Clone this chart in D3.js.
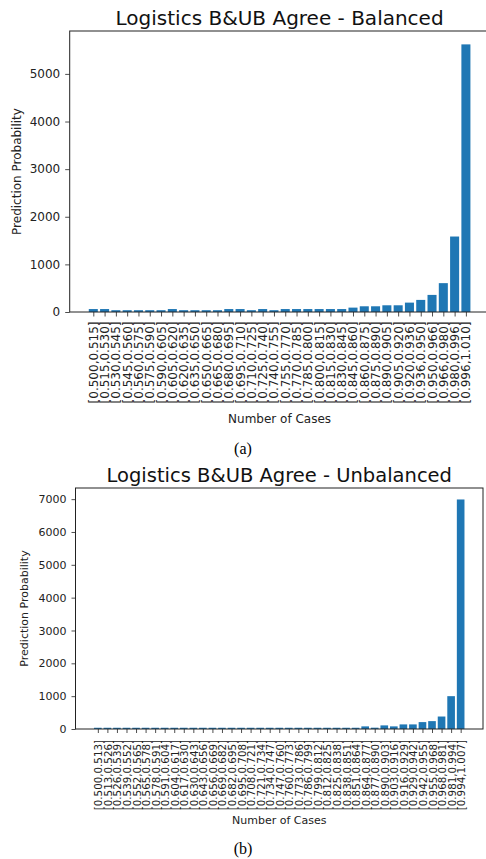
<!DOCTYPE html>
<html>
<head>
<meta charset="utf-8">
<script src="https://cdn.jsdelivr.net/npm/d3@7"></script>
<style>
  body { margin: 0; background: #fff; }
  svg { display: block; }
</style>
</head>
<body>
<svg id="fig" width="486" height="859"></svg>
<script>
// Interval labels and case counts for the balanced model
const balancedBins = [
  "[0.500,0.515]", "[0.515,0.530]", "[0.530,0.545]", "[0.545,0.560]", "[0.560,0.575]",
  "[0.575,0.590]", "[0.590,0.605]", "[0.605,0.620]", "[0.620,0.635]", "[0.635,0.650]",
  "[0.650,0.665]", "[0.665,0.680]", "[0.680,0.695]", "[0.695,0.710]", "[0.710,0.725]",
  "[0.725,0.740]", "[0.740,0.755]", "[0.755,0.770]", "[0.770,0.785]", "[0.785,0.800]",
  "[0.800,0.815]", "[0.815,0.830]", "[0.830,0.845]", "[0.845,0.860]", "[0.860,0.875]",
  "[0.875,0.890]", "[0.890,0.905]", "[0.905,0.920]", "[0.920,0.936]", "[0.936,0.950]",
  "[0.950,0.966]", "[0.966,0.980]", "[0.980,0.996]", "[0.996,1.010]"
];
const balancedCounts = [
  62, 62, 38, 38, 38, 38, 38, 62, 38, 38,
  38, 38, 62, 62, 38, 62, 38, 62, 62, 62,
  62, 62, 62, 92, 120, 120, 141, 141, 197, 254,
  359, 606, 1585, 5620
];
const balancedTicks = [0, 1000, 2000, 3000, 4000, 5000];

// Interval labels and case counts for the unbalanced model
const unbalancedBins = [
  "[0.500,0.513]", "[0.513,0.526]", "[0.526,0.539]", "[0.539,0.552]", "[0.552,0.565]",
  "[0.565,0.578]", "[0.578,0.591]", "[0.591,0.604]", "[0.604,0.617]", "[0.617,0.630]",
  "[0.630,0.643]", "[0.643,0.656]", "[0.656,0.669]", "[0.669,0.682]", "[0.682,0.695]",
  "[0.695,0.708]", "[0.708,0.721]", "[0.721,0.734]", "[0.734,0.747]", "[0.747,0.760]",
  "[0.760,0.773]", "[0.773,0.786]", "[0.786,0.799]", "[0.799,0.812]", "[0.812,0.825]",
  "[0.825,0.838]", "[0.838,0.851]", "[0.851,0.864]", "[0.864,0.877]", "[0.877,0.890]",
  "[0.890,0.903]", "[0.903,0.916]", "[0.916,0.929]", "[0.929,0.942]", "[0.942,0.955]",
  "[0.955,0.968]", "[0.968,0.981]", "[0.981,0.994]", "[0.994,1.007]"
];
const unbalancedCounts = [
  38, 38, 38, 38, 38, 38, 38, 38, 38, 38,
  38, 38, 38, 38, 38, 38, 38, 38, 38, 38,
  38, 38, 38, 38, 38, 38, 38, 38, 80, 40,
  110, 80, 140, 140, 210, 240, 380, 1000, 6990
];
const unbalancedTicks = [0, 1000, 2000, 3000, 4000, 5000, 6000, 7000];

const svg = d3.select("#fig");
const FONT = "DejaVu Sans, sans-serif";
const INK = "#222";
const BAR = "#1f77b4";

function drawPanel(cfg) {
  const g = svg.append("g");
  const n = cfg.bins.length;

  // matplotlib-style limits: bar extents plus 5% margin on x, 5% headroom on y
  const span = (n - 1) + 0.8;
  const mx = 0.05 * span;
  const x = d3.scaleLinear()
    .domain([-0.4 - mx, n - 1 + 0.4 + mx])
    .range([cfg.left, cfg.right]);
  const y = d3.scaleLinear()
    .domain([0, d3.max(cfg.counts) * 1.05])
    .range([cfg.bottom, cfg.top]);

  // bars
  g.append("g").selectAll("rect")
    .data(cfg.counts)
    .join("rect")
    .attr("x", (d, i) => x(i - 0.4))
    .attr("width", (d, i) => x(i + 0.4) - x(i - 0.4))
    .attr("y", d => y(d))
    .attr("height", d => y(0) - y(d))
    .attr("fill", BAR);

  // x axis with rotated interval labels
  const xAxis = d3.axisBottom(x)
    .tickValues(d3.range(n))
    .tickFormat(i => cfg.bins[i])
    .tickSize(cfg.tickLen)
    .tickSizeOuter(0);
  const gx = g.append("g")
    .attr("transform", `translate(0,${cfg.bottom})`)
    .call(xAxis);
  gx.select(".domain").remove();
  gx.selectAll(".tick line").attr("stroke", INK).attr("stroke-width", 0.8);
  gx.selectAll(".tick text")
    .attr("font-family", FONT)
    .attr("font-size", cfg.xtickFont)
    .attr("fill", INK)
    .attr("dy", null)
    .attr("y", null)
    .attr("text-anchor", "end")
    .attr("dominant-baseline", "central")
    .attr("transform", `translate(0,${cfg.tickLen + cfg.xPad}) rotate(-90)`);

  // y axis
  const yAxis = d3.axisLeft(y)
    .tickValues(cfg.ticks)
    .tickFormat(d3.format("d"))
    .tickSize(cfg.tickLen)
    .tickPadding(cfg.yPad)
    .tickSizeOuter(0);
  const gy = g.append("g")
    .attr("transform", `translate(${cfg.left},0)`)
    .call(yAxis);
  gy.select(".domain").remove();
  gy.selectAll(".tick line").attr("stroke", INK).attr("stroke-width", 0.8);
  gy.selectAll(".tick text")
    .attr("font-family", FONT)
    .attr("font-size", cfg.ytickFont)
    .attr("fill", INK);

  // frame
  g.append("rect")
    .attr("x", cfg.left)
    .attr("y", cfg.top)
    .attr("width", cfg.right - cfg.left)
    .attr("height", cfg.bottom - cfg.top)
    .attr("fill", "none")
    .attr("stroke", INK)
    .attr("stroke-width", 1);

  // title and axis labels
  const cx = (cfg.left + cfg.right) / 2;
  g.append("text")
    .attr("x", cx).attr("y", cfg.titleY)
    .attr("text-anchor", "middle")
    .attr("font-family", FONT)
    .attr("font-size", cfg.titleFont)
    .attr("fill", "#111")
    .text(cfg.title);

  g.append("text")
    .attr("x", cx).attr("y", cfg.xlabelY)
    .attr("text-anchor", "middle")
    .attr("font-family", FONT)
    .attr("font-size", cfg.labelFont)
    .attr("fill", INK)
    .text("Number of Cases");

  g.append("text")
    .attr("transform", `translate(${cfg.ylabelX},${(cfg.top + cfg.bottom) / 2}) rotate(-90)`)
    .attr("text-anchor", "middle")
    .attr("dominant-baseline", "central")
    .attr("font-family", FONT)
    .attr("font-size", cfg.labelFont)
    .attr("fill", INK)
    .text("Prediction Probability");

  svg.append("text")
    .attr("x", 243).attr("y", cfg.captionY)
    .attr("text-anchor", "middle")
    .attr("font-family", "Liberation Serif, Times New Roman, serif")
    .attr("font-size", 16)
    .attr("fill", "#000")
    .text(cfg.caption);
}

drawPanel({
  bins: balancedBins, counts: balancedCounts, ticks: balancedTicks,
  left: 69.7, right: 489.5, top: 31, bottom: 312,
  tickLen: 4.5, xPad: 5, yPad: 5,
  xtickFont: 12, ytickFont: 12, labelFont: 12, titleFont: 20,
  title: "Logistics B&UB Agree - Balanced", titleY: 25,
  xlabelY: 423, ylabelX: 17,
  caption: "(a)", captionY: 454
});

drawPanel({
  bins: unbalancedBins, counts: unbalancedCounts, ticks: unbalancedTicks,
  left: 75.5, right: 483, top: 488, bottom: 729,
  tickLen: 4, xPad: 7, yPad: 5,
  xtickFont: 10.3, ytickFont: 11, labelFont: 11, titleFont: 19.5,
  title: "Logistics B&UB Agree - Unbalanced", titleY: 481.5,
  xlabelY: 824, ylabelX: 24,
  caption: "(b)", captionY: 854
});
</script>
</body>
</html>
